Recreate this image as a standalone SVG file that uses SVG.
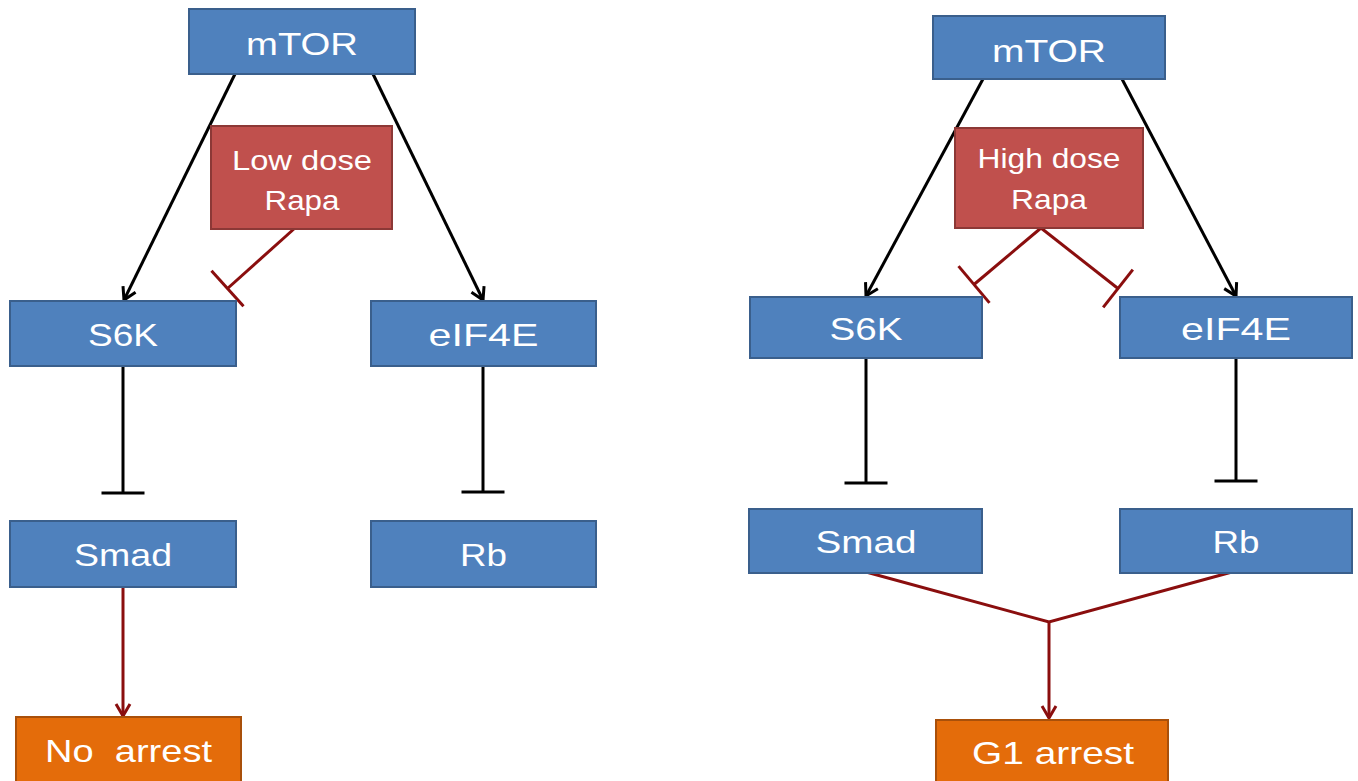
<svg xmlns="http://www.w3.org/2000/svg" width="1358" height="781" viewBox="0 0 1358 781">
  <defs>
    <style>
      .blue { fill: #4F81BD; stroke: #3A5F8C; stroke-width: 2; }
      .drug { fill: #C0504D; stroke: #8C3836; stroke-width: 2; }
      .out  { fill: #E46C0A; stroke: #A9500A; stroke-width: 2; }
      .lbl  { font-family: "Liberation Sans", Arial, sans-serif; font-size: 32px; fill: #FFFFFF; text-anchor: middle; white-space: pre; }
      .lbl-s { font-size: 28px; }
      .act  { fill: none; stroke: #000000; stroke-width: 3; }
      .blk-inh { fill: none; stroke: #000000; stroke-width: 3; }
      .red  { fill: none; stroke: #8A0E0E; stroke-width: 3; }
    </style>
    <marker id="arrowBlack" viewBox="-14 -9 16 18" refX="0" refY="0" markerWidth="16" markerHeight="18" markerUnits="userSpaceOnUse" orient="auto">
      <path d="M-12,-7 L0,0 L-12,7" fill="none" stroke="#000000" stroke-width="3" stroke-linejoin="miter"/>
    </marker>
    <marker id="arrowRed" viewBox="-14 -9 16 18" refX="0" refY="0" markerWidth="16" markerHeight="18" markerUnits="userSpaceOnUse" orient="auto">
      <path d="M-12,-7 L0,0 L-12,7" fill="none" stroke="#8A0E0E" stroke-width="3" stroke-linejoin="miter"/>
    </marker>
    <marker id="teeBlack" viewBox="-3 -23 6 46" refX="0" refY="0" markerWidth="6" markerHeight="46" markerUnits="userSpaceOnUse" orient="auto">
      <path d="M0,-21.5 L0,21.5" stroke="#000000" stroke-width="3"/>
    </marker>
    <marker id="teeRed" viewBox="-3 -26 6 52" refX="0" refY="0" markerWidth="6" markerHeight="52" markerUnits="userSpaceOnUse" orient="auto">
      <path d="M0,-24 L0,24" stroke="#8A0E0E" stroke-width="3"/>
    </marker>
  </defs>

  <rect width="1358" height="781" fill="#FFFFFF"/>

  <!-- connectors -->
  <g id="connectors">
    <!-- low dose panel -->
    <line class="act" x1="235" y1="74" x2="124" y2="300" marker-end="url(#arrowBlack)"/>
    <line class="act" x1="373" y1="74" x2="483" y2="300" marker-end="url(#arrowBlack)"/>
    <line class="red" x1="295" y1="228" x2="227.5" y2="288.5" marker-end="url(#teeRed)"/>
    <line class="blk-inh" x1="123" y1="366" x2="123" y2="493" marker-end="url(#teeBlack)"/>
    <line class="blk-inh" x1="483" y1="366" x2="483" y2="492" marker-end="url(#teeBlack)"/>
    <line class="red" x1="123" y1="587" x2="123" y2="716" marker-end="url(#arrowRed)"/>

    <!-- high dose panel -->
    <line class="act" x1="983" y1="79" x2="866" y2="296" marker-end="url(#arrowBlack)"/>
    <line class="act" x1="1122" y1="79" x2="1236" y2="296" marker-end="url(#arrowBlack)"/>
    <line class="red" x1="1041" y1="228" x2="974" y2="284.5" marker-end="url(#teeRed)"/>
    <line class="red" x1="1041" y1="228" x2="1118" y2="288.5" marker-end="url(#teeRed)"/>
    <line class="blk-inh" x1="866" y1="358" x2="866" y2="483" marker-end="url(#teeBlack)"/>
    <line class="blk-inh" x1="1236" y1="358" x2="1236" y2="481" marker-end="url(#teeBlack)"/>
    <polyline class="red" points="866,572 1049,622 1232,572"/>
    <line class="red" x1="1049" y1="622" x2="1049" y2="718" marker-end="url(#arrowRed)"/>
  </g>

  <!-- low dose panel nodes -->
  <g id="mtor-low">
    <rect class="blue" x="189" y="9" width="226" height="65"/>
    <text class="lbl" x="302" y="55" textLength="112" lengthAdjust="spacingAndGlyphs">mTOR</text>
  </g>
  <g id="rapa-low">
    <rect class="drug" x="211" y="126" width="181" height="103"/>
    <text class="lbl lbl-s" x="302" y="170" textLength="140" lengthAdjust="spacingAndGlyphs">Low dose</text>
    <text class="lbl lbl-s" x="302" y="210" textLength="75" lengthAdjust="spacingAndGlyphs">Rapa</text>
  </g>
  <g id="s6k-low">
    <rect class="blue" x="10" y="301" width="226" height="65"/>
    <text class="lbl" x="123" y="346" textLength="70" lengthAdjust="spacingAndGlyphs">S6K</text>
  </g>
  <g id="eif4e-low">
    <rect class="blue" x="371" y="301" width="225" height="65"/>
    <text class="lbl" x="483.5" y="346" textLength="110" lengthAdjust="spacingAndGlyphs">eIF4E</text>
  </g>
  <g id="smad-low">
    <rect class="blue" x="10" y="521" width="226" height="66"/>
    <text class="lbl" x="123" y="566" textLength="98" lengthAdjust="spacingAndGlyphs">Smad</text>
  </g>
  <g id="rb-low">
    <rect class="blue" x="371" y="521" width="225" height="66"/>
    <text class="lbl" x="483.5" y="566" textLength="47" lengthAdjust="spacingAndGlyphs">Rb</text>
  </g>
  <g id="no-arrest">
    <rect class="out" x="16" y="717" width="225" height="75"/>
    <text class="lbl" x="128.5" y="762" textLength="167" lengthAdjust="spacingAndGlyphs">No  arrest</text>
  </g>

  <!-- high dose panel nodes -->
  <g id="mtor-high">
    <rect class="blue" x="933" y="16" width="232" height="63"/>
    <text class="lbl" x="1049" y="62" textLength="114" lengthAdjust="spacingAndGlyphs">mTOR</text>
  </g>
  <g id="rapa-high">
    <rect class="drug" x="955" y="128" width="188" height="100"/>
    <text class="lbl lbl-s" x="1049" y="168" textLength="143" lengthAdjust="spacingAndGlyphs">High dose</text>
    <text class="lbl lbl-s" x="1049" y="209" textLength="76" lengthAdjust="spacingAndGlyphs">Rapa</text>
  </g>
  <g id="s6k-high">
    <rect class="blue" x="750" y="297" width="232" height="61"/>
    <text class="lbl" x="866" y="340" textLength="73" lengthAdjust="spacingAndGlyphs">S6K</text>
  </g>
  <g id="eif4e-high">
    <rect class="blue" x="1120" y="297" width="232" height="61"/>
    <text class="lbl" x="1236" y="340" textLength="110" lengthAdjust="spacingAndGlyphs">eIF4E</text>
  </g>
  <g id="smad-high">
    <rect class="blue" x="749" y="509" width="233" height="64"/>
    <text class="lbl" x="866" y="553" textLength="101" lengthAdjust="spacingAndGlyphs">Smad</text>
  </g>
  <g id="rb-high">
    <rect class="blue" x="1120" y="509" width="232" height="64"/>
    <text class="lbl" x="1236" y="553" textLength="47" lengthAdjust="spacingAndGlyphs">Rb</text>
  </g>
  <g id="g1-arrest">
    <rect class="out" x="936" y="720" width="232" height="72"/>
    <text class="lbl" x="1053" y="764" textLength="162" lengthAdjust="spacingAndGlyphs">G1 arrest</text>
  </g>
</svg>
